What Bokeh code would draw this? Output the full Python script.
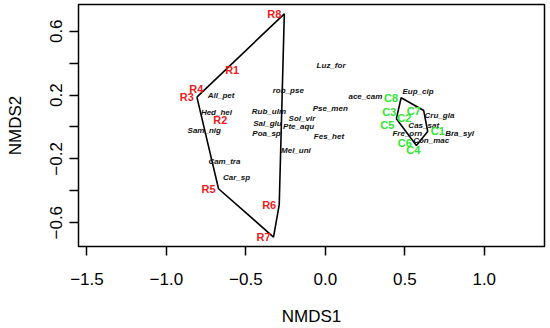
from bokeh.plotting import figure
from bokeh.models import Range1d, FixedTicker, ColumnDataSource
from bokeh.core.properties import value
from bokeh.embed import file_html
from bokeh.resources import INLINE

# ---- data ----
site_names = ["R1", "R2", "R3", "R4", "R5", "R6", "R7", "R8",
              "C1", "C2", "C3", "C4", "C5", "C6", "C7", "C8"]
site_x = [-0.523, -0.598, -0.808, -0.749, -0.672, -0.290, -0.326, -0.258,
          0.644, 0.560, 0.466, 0.573, 0.447, 0.563, 0.619, 0.477]
site_y = [0.354, 0.041, 0.187, 0.240, -0.387, -0.486, -0.690, 0.709,
          -0.028, 0.058, 0.093, -0.116, 0.051, -0.099, 0.103, 0.183]
site_group = ["R"] * 8 + ["C"] * 8
site_label_pos = ["l", "l", "l", "l", "l", "l", "l", "l",
                  "r", "l", "l", "b", "bl", "l", "l", "l"]

species_names = ["Luz_for", "rob_pse", "All_pet", "Hed_hel", "Rub_ulm", "Pse_men",
                 "Sol_vir", "Sal_glu", "Pte_aqu", "Sam_nig", "Poa_sp", "Fes_het",
                 "ace_cam", "Mel_uni", "Cam_tra", "Car_sp", "Eup_cip", "Cru_gla",
                 "Cas_sat", "Bra_syl", "Fre_orn", "Con_mac"]
species_x = [0.036, -0.233, -0.656, -0.685, -0.355, 0.031,
             -0.147, -0.364, -0.168, -0.762, -0.370, 0.023,
             0.252, -0.185, -0.635, -0.559, 0.583, 0.718,
             0.619, 0.845, 0.516, 0.666]
species_y = [0.385, 0.227, 0.197, 0.089, 0.097, 0.114,
             0.055, 0.024, 0.001, -0.022, -0.039, -0.061,
             0.192, -0.145, -0.218, -0.315, 0.223, 0.072,
             0.009, -0.044, -0.043, -0.085]

x_ticks = [-1.5, -1.0, -0.5, 0.0, 0.5, 1.0]
x_tick_labels = ["\u22121.5", "\u22121.0", "\u22120.5", "0.0", "0.5", "1.0"]
y_ticks = [-0.6, -0.4, -0.2, 0.0, 0.2, 0.4, 0.6]
y_tick_labels = ["\u22120.6", "", "\u22120.2", "", "0.2", "", "0.6"]

group_colors = {"R": "#EE1C1C", "C": "#2EE82E"}

FONT = "Liberation Sans"


def convex_hull(pts):
    pts = sorted(set(pts))
    if len(pts) < 3:
        return pts

    def cross(o, a, b):
        return (a[0] - o[0]) * (b[1] - o[1]) - (a[1] - o[1]) * (b[0] - o[0])

    lower, upper = [], []
    for pt in pts:
        while len(lower) >= 2 and cross(lower[-2], lower[-1], pt) <= 0:
            lower.pop()
        lower.append(pt)
    for pt in reversed(pts):
        while len(upper) >= 2 and cross(upper[-2], upper[-1], pt) <= 0:
            upper.pop()
        upper.append(pt)
    return lower[:-1] + upper[:-1]


p = figure(width=550, height=328,
           x_range=Range1d(-1.553, 1.379), y_range=Range1d(-0.749, 0.7675),
           output_backend="svg", toolbar_location=None,
           min_border_left=78, min_border_right=6, min_border_top=4, min_border_bottom=82)
p.background_fill_color = "white"
p.border_fill_color = "white"
p.grid.visible = False
p.outline_line_color = "black"
p.outline_line_width = 1.5

# hulls
for g in ["R", "C"]:
    pts = [(x, y) for x, y, gg in zip(site_x, site_y, site_group) if gg == g]
    hull = convex_hull(pts)
    hx = [h[0] for h in hull] + [hull[0][0]]
    hy = [h[1] for h in hull] + [hull[0][1]]
    p.line(hx, hy, line_color="black", line_width=1.6)

# species labels
sp_src = ColumnDataSource(dict(x=species_x, y=species_y, t=species_names))
p.text("x", "y", text="t", source=sp_src, text_font=value(FONT),
       text_font_style="bold italic", text_font_size="8px", text_color="#111111",
       text_align="center", text_baseline="middle")

# site labels
pos_style = {
    "l": ("right", "middle", -3, 0),
    "r": ("left", "middle", 3, 0),
    "b": ("center", "top", -3, -1),
    "bl": ("right", "top", -2, 0),
}
aligns, baselines, xo, yo, cols = [], [], [], [], []
for pos, g in zip(site_label_pos, site_group):
    a, b, dx, dy = pos_style[pos]
    aligns.append(a)
    baselines.append(b)
    xo.append(dx)
    yo.append(dy)
    cols.append(group_colors[g])
st_src = ColumnDataSource(dict(x=site_x, y=site_y, t=site_names, a=aligns, b=baselines,
                               xo=xo, yo=yo, c=cols))
p.text("x", "y", text="t", source=st_src, text_font=value(FONT), text_font_style="bold",
       text_font_size="11px", text_color="c", text_align="a", text_baseline="b",
       x_offset="xo", y_offset="yo")

# axes
for ax, ticks, labels in [(p.xaxis[0], x_ticks, x_tick_labels),
                          (p.yaxis[0], y_ticks, y_tick_labels)]:
    ax.ticker = FixedTicker(ticks=ticks, minor_ticks=[])
    ax.major_label_overrides = {t: l for t, l in zip(ticks, labels)}
    ax.axis_line_color = None
    ax.major_tick_in = 0
    ax.major_tick_out = 9
    ax.major_tick_line_width = 1.5
    ax.major_tick_line_color = "black"
    ax.minor_tick_line_color = None
    ax.major_label_text_font = FONT
    ax.major_label_text_font_size = "17px"
    ax.major_label_text_color = "black"
    ax.axis_label_text_font = FONT
    ax.axis_label_text_font_size = "17px"
    ax.axis_label_text_font_style = "normal"
    ax.axis_label_text_color = "black"

p.xaxis.axis_label = "NMDS1"
p.xaxis.major_label_standoff = 17
p.xaxis.axis_label_standoff = 19
p.yaxis.axis_label = "NMDS2"
p.yaxis.major_label_orientation = "vertical"
p.yaxis.major_label_standoff = 7
p.yaxis.axis_label_standoff = 23

open("out.html", "w").write(file_html(p, INLINE))
